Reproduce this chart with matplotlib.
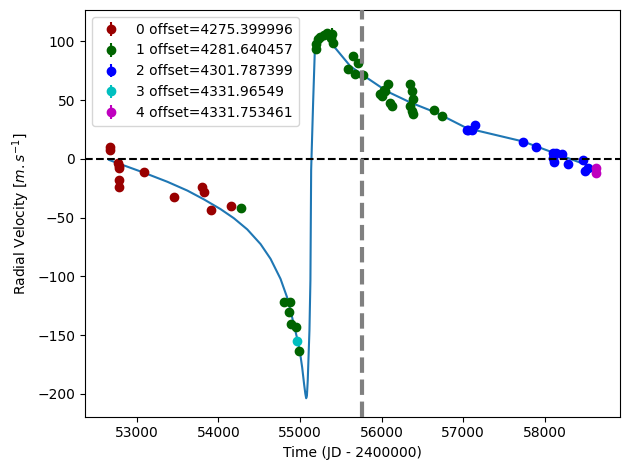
import numpy as np
import matplotlib
matplotlib.use('Agg')
import matplotlib.pyplot as plt

# Radial velocity data per instrument (time, rv, error)
t0 = [52670, 52672, 52772, 52780, 52782, 52778, 52780, 53089, 53456, 53795, 53823, 53908, 54149]
rv0 = [10.3, 7.9, -3.7, -5.7, -8.0, -18.0, -24.2, -11.4, -32.2, -23.7, -28.0, -43.6, -40.2]
e0 = [2.5, 2.5, 3.0, 2.0, 2.0, 2.5, 2.5, 2.5, 2.0, 2.5, 4.5, 2.5, 2.5]

t1 = [54271, 54809, 54874, 54862, 54895, 54952, 54984,
      55200, 55200, 55216, 55249, 55290, 55331, 55392, 55399, 55380,
      55644, 55705, 55583, 55669, 55771,
      56072, 56023, 55974, 56004, 56044, 56105, 56126,
      56353, 56370, 56390, 56350, 56370, 56382,
      56643, 56741]
rv1 = [-42.1, -121.6, -121.6, -130.5, -140.4, -142.7, -163.5,
       93.8, 97.4, 101.7, 104.0, 105.1, 106.8, 106.0, 98.9, 103.0,
       87.4, 81.8, 76.1, 72.6, 71.8,
       63.8, 59.0, 55.6, 53.8, 57.5, 47.6, 45.3,
       63.8, 57.5, 51.0, 44.7, 40.4, 38.5,
       41.9, 36.2]
e1 = [2.0, 3.0, 3.0, 2.5, 2.5, 2.5, 3.0,
      2.5, 2.5, 2.5, 2.5, 3.0, 2.5, 5.0, 3.0, 2.5,
      2.5, 2.5, 2.5, 2.5, 2.5,
      2.5, 2.5, 2.5, 2.5, 2.5, 2.5, 2.5,
      3.0, 2.5, 2.5, 2.5, 2.5, 2.5,
      2.5, 3.0]

t2 = [57050, 57062, 57111, 57148, 57735, 57890,
      58094, 58134, 58110, 58102, 58216, 58285, 58468, 58493, 58530]
rv2 = [24.8, 24.8, 24.8, 29.1, 14.3, 10.0,
       4.9, 4.9, -2.3, 0.6, 4.0, -4.3, -0.9, -10.3, -7.9]
e2 = [1.5, 1.5, 1.5, 1.5, 2.5, 1.5,
      1.5, 1.5, 1.5, 1.5, 1.5, 1.5, 1.5, 1.5, 1.5]

t3 = [54960]
rv3 = [-155.0]
e3 = [2.0]

t4 = [58623, 58623]
rv4 = [-8.0, -11.7]
e4 = [2.0, 2.0]

offsets = ['4275.399996', '4281.640457', '4301.787399', '4331.96549', '4331.753461']
colors = ['#990000', '#006400', 'b', 'c', 'm']

# Keplerian model curve
model_t = [52661, 52804, 53089, 53375, 53620, 53823, 54027, 54189, 54353, 54516,
           54638, 54760, 54842, 54883, 54965, 55000, 55026, 55050, 55065, 55075,
           55084, 55094, 55115, 55127, 55136, 55160, 55180, 55200, 55230, 55270,
           55320, 55412, 55616, 55779, 56065, 56350, 56676, 57043, 57735, 58510,
           58623]
model_rv = [-0.9, -4.6, -11.8, -19.5, -27.0, -34.5, -42.8, -50.5, -60.0, -72.5,
            -85.0, -102.0, -118.0, -129.0, -153.0, -165.0, -177.5, -192.0, -200.0, -203.7,
            -201.7, -188.9, -146.2, -103.4, -9.4, 47.6, 90.3, 99.0, 104.0, 106.0,
            105.0, 96.0, 78.9, 70.9, 57.5, 48.1, 39.1, 26.2, 14.8, -5.1,
            -8.0]

t_ref = 55765

fig, ax = plt.subplots(figsize=(6.4, 4.8), dpi=100)

ax.plot(model_t, model_rv, color='C0', zorder=1)

data = [(t0, rv0, e0), (t1, rv1, e1), (t2, rv2, e2), (t3, rv3, e3), (t4, rv4, e4)]
for i, (t, rv, e) in enumerate(data):
    ax.errorbar(t, rv, yerr=e, fmt='o', color=colors[i],
                label='%d offset=%s' % (i, offsets[i]), zorder=2)

ax.axhline(0, color='k', ls='--', zorder=3)
ax.axvline(t_ref, color='grey', ls='--', lw=3, zorder=3)

ax.set_xlabel('Time (JD - 2400000)')
ax.set_ylabel(r'Radial Velocity [$m.s^{-1}$]')
ax.legend(loc='upper left')

plt.tight_layout()
plt.savefig('out.png', bbox_inches='tight')
